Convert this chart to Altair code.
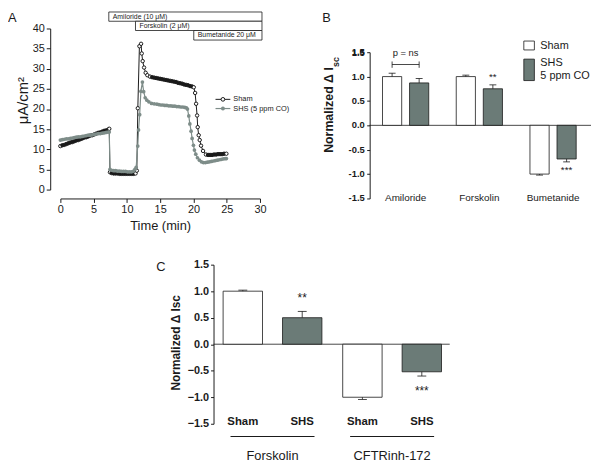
import altair as alt
import numpy as np
import pandas as pd

FONT = "Liberation Sans"
INK = "#1a1a1a"
SHS_LINE = "#7e8d89"
SHS_BAR = "#6b7b77"

# ---------------- Panel A: Isc traces ----------------
sham_time = [0, 0.3, 0.6, 0.9, 1.2, 1.5, 1.8, 2.1, 2.4, 2.7, 3.0, 3.3, 3.6, 3.9, 4.2, 4.5, 4.8, 5.1, 5.4, 5.7, 6.0, 6.3, 6.6, 6.9, 7.2, 7.35,
             7.45, 7.7, 8.0, 8.3, 8.6, 8.9, 9.2, 9.5, 9.8, 10.1, 10.4, 10.7, 11.0, 11.3,
             11.49, 11.64, 11.88, 12.13, 12.23, 12.37, 12.58, 12.82, 13.07, 13.47,
             13.8, 14.1, 14.4, 14.7, 15.0, 15.3, 15.6, 15.9, 16.2, 16.5, 16.8, 17.1, 17.4, 17.7, 18.0, 18.3, 18.6, 18.9, 19.2, 19.5, 19.8, 20.05,
             20.25, 20.4, 20.55, 20.64, 20.79, 20.94, 21.14, 21.44, 21.88,
             22.2, 22.5, 22.8, 23.1, 23.4, 23.7, 24.0, 24.3, 24.6, 24.95]
sham_current = [10.8, 11.0, 11.1, 11.3, 11.5, 11.7, 11.8, 12.0, 12.2, 12.3, 12.5, 12.7, 12.9, 13.0, 13.2, 13.4, 13.5, 13.7, 13.9, 14.1, 14.2, 14.4, 14.6, 14.7, 14.9, 15.1,
                4.3, 4.1, 4.0, 4.0, 4.0, 3.9, 3.9, 3.9, 3.9, 3.9, 3.9, 3.9, 3.9, 4.0,
                4.7, 20.2, 35.6, 36.2, 33.8, 31.9, 30.3, 29.0, 28.4, 28.05,
                27.9, 27.8, 27.7, 27.6, 27.5, 27.4, 27.3, 27.2, 27.1, 27.0, 26.9, 26.8, 26.7, 26.5, 26.4, 26.3, 26.1, 26.0, 25.9, 25.7, 25.6, 25.4,
                24.0, 21.3, 18.4, 15.5, 13.5, 12.3, 10.9, 9.6, 8.7,
                8.6, 8.6, 8.6, 8.7, 8.7, 8.8, 8.8, 8.8, 8.9, 8.9]

shs_time = [0, 0.3, 0.6, 0.9, 1.2, 1.5, 1.8, 2.1, 2.4, 2.7, 3.0, 3.3, 3.6, 3.9, 4.2, 4.5, 4.8, 5.1, 5.4, 5.7, 6.0, 6.3, 6.6, 6.9, 7.2, 7.35,
            7.45, 7.7, 8.0, 8.3, 8.6, 8.9, 9.2, 9.5, 9.8, 10.1, 10.4, 10.7, 11.0, 11.2, 11.39,
            11.63, 11.75, 11.92, 12.1, 12.33, 12.52, 12.75, 13.0, 13.3, 13.7, 14.1,
            14.5, 14.8, 15.1, 15.4, 15.7, 16.0, 16.3, 16.6, 16.9, 17.2, 17.5, 17.8, 18.1, 18.4, 18.7, 18.95,
            19.1, 19.3, 19.46, 19.65, 19.8, 20.0, 20.15, 20.35, 20.6, 20.9, 21.2, 21.5,
            21.8, 22.1, 22.4, 22.7, 23.0, 23.3, 23.6, 23.9, 24.2, 24.5, 24.8, 24.95]
shs_current = [12.3, 12.4, 12.5, 12.6, 12.6, 12.7, 12.8, 12.9, 13.0, 13.1, 13.1, 13.2, 13.3, 13.4, 13.5, 13.5, 13.6, 13.7, 13.8, 13.9, 13.9, 14.0, 14.1, 14.2, 14.3, 14.3,
               5.0, 4.8, 4.7, 4.7, 4.6, 4.6, 4.5, 4.5, 4.5, 4.4, 4.4, 4.4, 4.6, 5.0, 5.5,
               10.8, 14.8, 18.6, 24.4, 26.7, 24.3, 22.8, 22.2, 21.8, 21.4, 21.3,
               21.2, 21.1, 21.0, 21.0, 20.9, 20.9, 20.8, 20.8, 20.7, 20.7, 20.6, 20.6, 20.5, 20.5, 20.4, 20.3,
               20.0, 18.3, 16.3, 14.5, 12.7, 11.0, 9.8, 8.8, 7.9, 7.3, 6.9, 6.7,
               6.7, 6.8, 6.9, 7.0, 7.1, 7.2, 7.3, 7.4, 7.5, 7.6, 7.7, 7.7]

drug_labels = ["Amiloride (10 μM)", "Forskolin (2 μM)", "Bumetanide 20 μM"]
drug_added_min = [7.28, 11.29, 20.05]
drug_bar_end_min = [30.3, 30.3, 30.3]

# ---------------- Panel B ----------------
series = ["Sham", "SHS"]
b_groups = ["Amiloride", "Forskolin", "Bumetanide"]
b_sham = [1.0, 1.0, -1.0]
b_sham_sem = [0.07, 0.03, 0.02]
b_shs = [0.87, 0.75, -0.69]
b_shs_sem = [0.09, 0.08, 0.06]
norm_ticks = [-1.5, -1.0, -0.5, 0.0, 0.5, 1.0, 1.5]

# ---------------- Panel C ----------------
c_groups = ["Forskolin", "CFTRinh-172"]
c_sham = [1.0, -1.0]
c_sham_sem = [0.02, 0.04]
c_shs = [0.50, -0.52]
c_shs_sem = [0.12, 0.08]

# ============ layout (pixel ranges of each panel inside one canvas) ============
W, H = 584, 450

def dense_flags(t, v):
    px = np.array(t) * 202 / 30
    py = np.array(v) * 163 / 40
    d = np.hypot(np.diff(px), np.diff(py))
    prev = np.r_[np.inf, d]
    nxt = np.r_[d, np.inf]
    return np.maximum(prev, nxt) < 3.0

sham_df = pd.DataFrame({"t": sham_time, "v": sham_current})
sham_df["dense"] = dense_flags(sham_time, sham_current)
shs_df = pd.DataFrame({"t": shs_time, "v": shs_current})

box_edges = [44.1, 41.8, 39.5, 37.13]
drug_df = pd.DataFrame({
    "label": drug_labels,
    "start": drug_added_min,
    "end": drug_bar_end_min,
    "top": box_edges[:3],
    "bottom": box_edges[1:],
})
drug_df["mid"] = (drug_df["top"] + drug_df["bottom"]) / 2

xA = alt.Scale(domain=[0, 30], range=[53, 255], nice=False, zero=False)
yA = alt.Scale(domain=[0, 40], range=[180, 17], nice=False, zero=False)
axAx = alt.Axis(orient="bottom", offset=-261, values=list(range(0, 31, 5)), tickSize=4,
                labelPadding=1, labelFontSize=11, labelFlush=False, labelOverlap=False, title="Time (min)",
                titleFontSize=13, titleFontWeight="normal", titlePadding=5, grid=False)
axAy = alt.Axis(orient="left", offset=-42.7, values=list(range(0, 41, 5)), tickSize=4,
                labelPadding=2, labelFontSize=11, labelOverlap=False, title="μA/cm²", titleFontSize=15,
                titleFontWeight="normal", titleX=-28, titleY=89.5, titleAngle=270,
                titleBaseline="middle", titleAlign="center", grid=False)

def XA(f):
    return alt.X(f, type="quantitative", scale=xA, axis=axAx)

def YA(f):
    return alt.Y(f, type="quantitative", scale=yA, axis=axAy)

boxes = alt.Chart(drug_df).mark_rect(fill="white", stroke=INK, strokeWidth=0.8).encode(
    x=XA("start"), x2="end", y=YA("top"), y2="bottom")
box_text = alt.Chart(drug_df).mark_text(align="left", baseline="middle", dx=4, fontSize=7, color=INK).encode(
    x=XA("start"), y=YA("mid"), text="label:N")
sham_line = alt.Chart(sham_df).mark_line(color=INK, strokeWidth=1).encode(x=XA("t"), y=YA("v"))
sham_pts = alt.Chart(sham_df).mark_point(shape="circle", filled=True, size=12, stroke=INK, strokeWidth=1, opacity=1).encode(
    x=XA("t"), y=YA("v"),
    fill=alt.condition("datum.dense", alt.value(INK), alt.value("white")))
shs_line = alt.Chart(shs_df).mark_line(color=SHS_LINE, strokeWidth=1.2).encode(x=XA("t"), y=YA("v"))
shs_pts = alt.Chart(shs_df).mark_circle(color=SHS_LINE, size=14, opacity=1).encode(x=XA("t"), y=YA("v"))

legA = pd.DataFrame({"name": ["Sham", "SHS (5 ppm CO)"]})
one = pd.DataFrame({"k": [0]})
legA_sham_line = alt.Chart(one).mark_rule(color=INK, strokeWidth=1).encode(
    x=alt.value(210), x2=alt.value(225), y=alt.value(88.7))
legA_sham_pt = alt.Chart(one).mark_point(shape="circle", filled=True, fill="white", stroke=INK, strokeWidth=1, size=14, opacity=1).encode(
    x=alt.value(217.5), y=alt.value(88.7))
legA_shs_line = alt.Chart(one).mark_rule(color=SHS_LINE, strokeWidth=1.2).encode(
    x=alt.value(210), x2=alt.value(225), y=alt.value(98))
legA_shs_pt = alt.Chart(one).mark_circle(color=SHS_LINE, size=16, opacity=1).encode(
    x=alt.value(217.5), y=alt.value(98))
legA_text1 = alt.Chart(legA.iloc[[0]]).mark_text(align="left", baseline="middle", fontSize=7.5, color=INK).encode(
    x=alt.value(228), y=alt.value(88.7), text="name:N")
legA_text2 = alt.Chart(legA.iloc[[1]]).mark_text(align="left", baseline="middle", fontSize=7.5, color=INK).encode(
    x=alt.value(228), y=alt.value(98), text="name:N")

panelA = alt.layer(boxes, box_text, sham_line, sham_pts, shs_line, shs_pts,
                   legA_sham_line, legA_sham_pt, legA_shs_line, legA_shs_pt, legA_text1, legA_text2)

# ---------------- Panel B build ----------------
rowsB = []
for i, g in enumerate(b_groups):
    for s, vals, sems in (("Sham", b_sham, b_sham_sem), ("SHS", b_shs, b_shs_sem)):
        v = vals[i]
        rowsB.append({"group": g, "series": s, "value": v, "err": v + np.sign(v) * sems[i]})
dfB = pd.DataFrame(rowsB)
dfB["zero"] = 0.0

xB = alt.Scale(domain=b_groups, range=[379, 575], paddingInner=0.373, paddingOuter=0)
xoB = alt.Scale(domain=series, paddingInner=0.291, paddingOuter=0)
yB = alt.Scale(domain=[-1.5, 1.5], range=[189, 41], nice=False, zero=False)
axBy = alt.Axis(orient="left", offset=-366, values=norm_ticks, tickSize=3, labels=False,
                title=None, grid=False)
fill_scale = alt.Scale(domain=series, range=["white", SHS_BAR])

def XB():
    return alt.X("group:N", scale=xB, axis=None)

def XOB():
    return alt.XOffset("series:N", scale=xoB)

def YB(f):
    return alt.Y(f, type="quantitative", scale=yB, axis=axBy)

barsB = alt.Chart(dfB).mark_bar(stroke=INK, strokeWidth=0.8).encode(
    x=XB(), xOffset=XOB(), y=YB("value"), y2="zero",
    fill=alt.Fill("series:N", scale=fill_scale, legend=None))
errB = alt.Chart(dfB).mark_rule(color=INK, strokeWidth=0.8).encode(x=XB(), xOffset=XOB(), y=YB("value"), y2="err")
capB = alt.Chart(dfB).mark_tick(orient="horizontal", color=INK, thickness=0.8, size=7, opacity=1).encode(
    x=XB(), xOffset=XOB(), y=YB("err"))
sigB = pd.DataFrame({"group": ["Forskolin", "Bumetanide"], "series": ["SHS", "SHS"],
                     "label": ["**", "***"], "ypos": [0.99, -0.92]})
sigBt = alt.Chart(sigB).mark_text(fontSize=10, color=INK, baseline="middle").encode(
    x=XB(), xOffset=XOB(), y=YB("ypos"), text="label:N")
brkEnds = pd.DataFrame({"group": ["Amiloride", "Amiloride"], "series": series, "y1": [1.18, 1.18], "y2": [1.31, 1.31]})
brkE = alt.Chart(brkEnds).mark_rule(color=INK, strokeWidth=0.8).encode(x=XB(), xOffset=XOB(), y=YB("y1"), y2="y2")
brkMid = pd.DataFrame({"group": ["Amiloride"], "y": [1.25], "ty": [1.49], "label": ["p = ns"]})
brkH = alt.Chart(brkMid).mark_tick(orient="horizontal", color=INK, thickness=0.8, size=27.5, opacity=1).encode(
    x=XB(), y=YB("y"))
brkT = alt.Chart(brkMid).mark_text(fontSize=9.5, color=INK, baseline="middle").encode(
    x=XB(), y=YB("ty"), text="label:N")
catB = pd.DataFrame({"group": b_groups, "y": [-1.49] * 3})
catBt = alt.Chart(catB).mark_text(fontSize=10, color=INK, baseline="middle").encode(
    x=XB(), y=YB("y"), text="group:N")
zeroB = alt.Chart(pd.DataFrame({"y": [0.0]})).mark_rule(color=INK, strokeWidth=0.8).encode(
    y=YB("y"), x=alt.value(366), x2=alt.value(590))
tick_df = pd.DataFrame({"tick": norm_ticks})
tick_df["label"] = tick_df["tick"].map(lambda v: f"{v:.1f}")
tickLabB = alt.Chart(tick_df).mark_text(
    align="right", baseline="middle", fontSize=9.5, fontWeight="bold", color=INK).encode(
    y=YB("tick"), x=alt.value(361), text="label:N")

legB = pd.DataFrame({"name": ["Sham", "SHS", "5 ppm CO"]})
legB_box1 = alt.Chart(one).mark_rect(fill="white", stroke=INK, strokeWidth=0.8).encode(
    x=alt.value(522), x2=alt.value(532.7), y=alt.value(29.7), y2=alt.value(38.7))
legB_box2 = alt.Chart(one).mark_rect(fill=SHS_BAR, stroke=INK, strokeWidth=0.8).encode(
    x=alt.value(522), x2=alt.value(532.7), y=alt.value(48), y2=alt.value(69.7))
legB_t = [alt.Chart(legB.iloc[[i]]).mark_text(align="left", baseline="middle", fontSize=11, color=INK).encode(
    x=alt.value(538.7), y=alt.value(yy), text="name:N") for i, yy in enumerate([34.7, 52, 64.7])]
titleB = pd.DataFrame({"main": ["Normalized Δ I"], "sub": ["sc"]})
titleB1 = alt.Chart(titleB).mark_text(angle=270, fontSize=12.5, fontWeight="bold", color=INK, baseline="middle").encode(
    x=alt.value(325), y=alt.value(99.5), text="main:N")
titleB2 = alt.Chart(titleB).mark_text(angle=270, fontSize=9, fontWeight="bold", color=INK, baseline="middle").encode(
    x=alt.value(332), y=alt.value(51), text="sub:N")

panelB = alt.layer(zeroB, barsB, errB, capB, sigBt, brkE, brkH, brkT, catBt,
                   legB_box1, legB_box2, *legB_t, titleB1, titleB2, tickLabB)

# ---------------- Panel C build ----------------
rowsC = []
for i, g in enumerate(c_groups):
    for s, vals, sems in (("Sham", c_sham, c_sham_sem), ("SHS", c_shs, c_shs_sem)):
        v = vals[i]
        rowsC.append({"group": g, "series": s, "value": v, "err": v + np.sign(v) * sems[i], "lab_y": -1.46})
dfC = pd.DataFrame(rowsC)
dfC["zero"] = 0.0

xC = alt.Scale(domain=c_groups, range=[217.7, 438.7], paddingInner=0.174, paddingOuter=0)
xoC = alt.Scale(domain=series, paddingInner=0.337, paddingOuter=0)
yC = alt.Scale(domain=[-1.5, 1.5], range=[417, 256], nice=False, zero=False)
axCy = alt.Axis(orient="left", offset=-208, values=norm_ticks, format=".1f",
                tickSize=3, labelPadding=2, labelFontSize=11, labelFontWeight="bold", labelOverlap=False,
                title="Normalized  Δ Isc", titleFontSize=12, titleFontWeight="bold",
                titleX=-38, titleY=334.5, titleAngle=270, titleBaseline="middle", titleAlign="center", grid=False)

def XC():
    return alt.X("group:N", scale=xC, axis=None)

def XOC():
    return alt.XOffset("series:N", scale=xoC)

def YC(f):
    return alt.Y(f, type="quantitative", scale=yC, axis=axCy)

barsC = alt.Chart(dfC).mark_bar(stroke=INK, strokeWidth=0.8).encode(
    x=XC(), xOffset=XOC(), y=YC("value"), y2="zero",
    fill=alt.Fill("series:N", scale=fill_scale, legend=None))
errC = alt.Chart(dfC).mark_rule(color=INK, strokeWidth=0.8).encode(x=XC(), xOffset=XOC(), y=YC("value"), y2="err")
capC = alt.Chart(dfC).mark_tick(orient="horizontal", color=INK, thickness=0.8, size=9, opacity=1).encode(
    x=XC(), xOffset=XOC(), y=YC("err"))
labC = alt.Chart(dfC).mark_text(fontSize=11.5, fontWeight="bold", color=INK, baseline="middle").encode(
    x=XC(), xOffset=XOC(), y=YC("lab_y"), text="series:N")
sigC = pd.DataFrame({"group": c_groups, "series": ["SHS", "SHS"], "label": ["**", "***"], "ypos": [0.88, -0.88]})
sigCt = alt.Chart(sigC).mark_text(fontSize=12, color=INK, baseline="middle").encode(
    x=XC(), xOffset=XOC(), y=YC("ypos"), text="label:N")
grpC = pd.DataFrame({"group": c_groups, "uy": [-1.74, -1.74], "ty": [-2.1, -2.1]})
ulC = alt.Chart(grpC).mark_tick(orient="horizontal", color=INK, thickness=0.8, size=85, opacity=1).encode(
    x=XC(), y=YC("uy"))
grpCt = alt.Chart(grpC).mark_text(fontSize=13, color=INK, baseline="middle").encode(
    x=XC(), y=YC("ty"), text="group:N")
zeroC = alt.Chart(pd.DataFrame({"y": [0.0]})).mark_rule(color=INK, strokeWidth=0.8).encode(
    y=YC("y"), x=alt.value(208), x2=alt.value(447))

panelC = alt.layer(zeroC, barsC, errC, capC, labC, sigCt, ulC, grpCt)

# ---------------- panel letters and the top B tick label (drawn last) ----------------
letters_df = pd.DataFrame({"L": ["A", "B", "C"]})
letters = [alt.Chart(letters_df.iloc[[i]]).mark_text(align="left", baseline="top", fontSize=13, color=INK).encode(
    x=alt.value(px), y=alt.value(py), text="L:N") for i, (px, py) in enumerate([(0, 0), (318, 0), (150, 252)])]
topTick = alt.Chart(tick_df.iloc[[-1]]).mark_text(
    align="right", baseline="middle", fontSize=9.5, fontWeight="bold", color=INK).encode(
    x=alt.value(361), y=alt.value(41.5), text="label:N")

chart = alt.layer(panelA, panelB, panelC, *letters, topTick).resolve_scale(
    x="independent", y="independent", xOffset="independent"
).resolve_axis(x="independent", y="independent").properties(
    width=W, height=H, padding=0
).configure_view(stroke=None).configure_axis(
    domainColor=INK, tickColor=INK, labelColor=INK, titleColor=INK, labelFont=FONT, titleFont=FONT,
    domainWidth=1, tickWidth=1
).configure_text(font=FONT)

chart.save("out.html", embed_options={"renderer": "svg", "actions": False})
